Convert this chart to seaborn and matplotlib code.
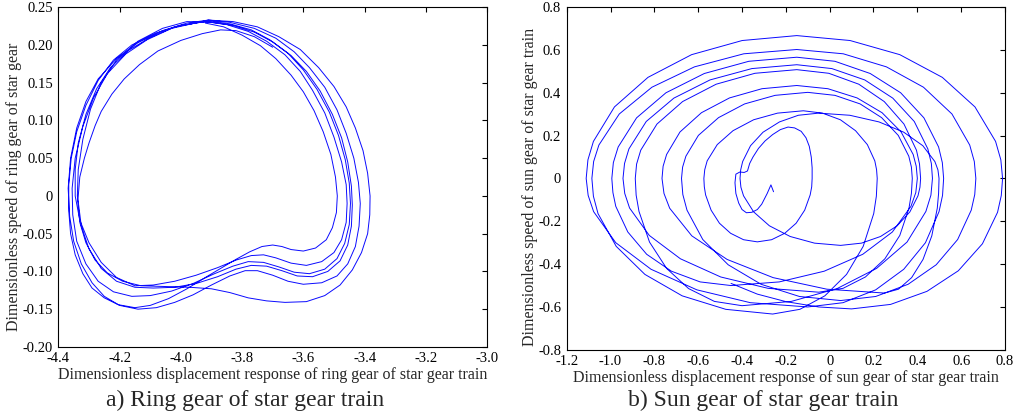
import matplotlib
matplotlib.use("Agg")
import matplotlib.pyplot as plt
import pandas as pd
import seaborn as sns

# ---- panel a: ring gear phase trajectory, one list per loop (x, v) ----
ring_loop_1 = [(-3.92, 0.229), (-3.86, 0.224), (-3.80, 0.213), (-3.74, 0.199), (-3.69, 0.182),
               (-3.64, 0.160), (-3.60, 0.138), (-3.565, 0.113), (-3.535, 0.085), (-3.51, 0.055),
               (-3.495, 0.025), (-3.489, 0.000), (-3.492, -0.022), (-3.505, -0.042), (-3.525, -0.058),
               (-3.56, -0.069), (-3.60, -0.073), (-3.64, -0.071), (-3.67, -0.067), (-3.70, -0.065),
               (-3.735, -0.067), (-3.775, -0.074), (-3.82, -0.084), (-3.87, -0.096), (-3.92, -0.108),
               (-3.98, -0.123), (-4.04, -0.136), (-4.10, -0.145), (-4.15, -0.148), (-4.205, -0.144),
               (-4.25, -0.135), (-4.29, -0.122), (-4.32, -0.103), (-4.345, -0.078), (-4.36, -0.050),
               (-4.366, -0.020), (-4.366, 0.015), (-4.358, 0.050), (-4.34, 0.085), (-4.31, 0.120),
               (-4.27, 0.153), (-4.22, 0.180), (-4.16, 0.200), (-4.08, 0.216), (-4.00, 0.226)]
ring_loop_2 = [(-3.92, 0.231), (-3.85, 0.227), (-3.78, 0.218), (-3.72, 0.205), (-3.66, 0.187),
               (-3.61, 0.165), (-3.57, 0.140), (-3.53, 0.110), (-3.50, 0.078), (-3.475, 0.045),
               (-3.46, 0.015), (-3.457, -0.010), (-3.46, -0.035), (-3.475, -0.058), (-3.50, -0.075),
               (-3.54, -0.087), (-3.59, -0.092), (-3.64, -0.089), (-3.69, -0.082), (-3.73, -0.078),
               (-3.77, -0.079), (-3.82, -0.085), (-3.88, -0.095), (-3.95, -0.105), (-4.02, -0.113),
               (-4.09, -0.118), (-4.15, -0.119), (-4.21, -0.108), (-4.26, -0.088), (-4.30, -0.062),
               (-4.33, -0.032), (-4.345, 0.000), (-4.345, 0.035), (-4.335, 0.070), (-4.31, 0.108),
               (-4.275, 0.142), (-4.23, 0.170), (-4.17, 0.193), (-4.10, 0.210), (-4.02, 0.224)]
ring_loop_3 = [(-3.91, 0.232), (-3.84, 0.228), (-3.77, 0.220), (-3.71, 0.207), (-3.65, 0.189),
               (-3.60, 0.167), (-3.555, 0.141), (-3.515, 0.111), (-3.485, 0.080), (-3.463, 0.048),
               (-3.45, 0.017), (-3.446, -0.010), (-3.45, -0.038), (-3.465, -0.063), (-3.49, -0.083),
               (-3.53, -0.097), (-3.58, -0.103), (-3.63, -0.101), (-3.68, -0.094), (-3.73, -0.088),
               (-3.78, -0.087), (-3.83, -0.093), (-3.89, -0.103), (-3.96, -0.116), (-4.03, -0.126),
               (-4.10, -0.132), (-4.16, -0.133), (-4.22, -0.127), (-4.27, -0.113), (-4.31, -0.090),
               (-4.34, -0.060), (-4.353, -0.025), (-4.355, 0.010), (-4.345, 0.050), (-4.32, 0.092),
               (-4.285, 0.130), (-4.24, 0.162), (-4.18, 0.188), (-4.11, 0.207), (-4.03, 0.222)]
ring_loop_4 = [(-3.91, 0.233), (-3.84, 0.230), (-3.76, 0.222), (-3.69, 0.209), (-3.63, 0.191),
               (-3.58, 0.170), (-3.53, 0.144), (-3.49, 0.114), (-3.46, 0.083), (-3.435, 0.050),
               (-3.42, 0.018), (-3.414, -0.010), (-3.418, -0.040), (-3.43, -0.067), (-3.455, -0.090),
               (-3.49, -0.106), (-3.54, -0.115), (-3.60, -0.117), (-3.65, -0.113), (-3.70, -0.105),
               (-3.75, -0.099), (-3.79, -0.099), (-3.84, -0.106), (-3.90, -0.118), (-3.96, -0.131),
               (-4.02, -0.141), (-4.08, -0.148), (-4.14, -0.150), (-4.20, -0.145), (-4.25, -0.133),
               (-4.29, -0.115), (-4.325, -0.090), (-4.35, -0.060), (-4.363, -0.027), (-4.368, 0.010),
               (-4.36, 0.050), (-4.34, 0.090), (-4.31, 0.125), (-4.27, 0.155), (-4.21, 0.182),
               (-4.14, 0.203), (-4.06, 0.219), (-3.98, 0.229)]
ring_loop_5 = [(-3.91, 0.233), (-3.83, 0.231), (-3.75, 0.224), (-3.68, 0.211), (-3.61, 0.194),
               (-3.55, 0.170), (-3.50, 0.145), (-3.46, 0.118), (-3.43, 0.090), (-3.405, 0.060),
               (-3.39, 0.030), (-3.382, 0.000), (-3.383, -0.025), (-3.39, -0.050), (-3.41, -0.075),
               (-3.44, -0.098), (-3.48, -0.118), (-3.53, -0.132), (-3.59, -0.140), (-3.66, -0.141),
               (-3.72, -0.139), (-3.78, -0.135), (-3.84, -0.128), (-3.90, -0.123), (-3.97, -0.121),
               (-4.05, -0.120), (-4.13, -0.119), (-4.19, -0.113), (-4.24, -0.102), (-4.28, -0.085),
               (-4.31, -0.062), (-4.33, -0.035), (-4.338, 0.000), (-4.335, 0.035), (-4.32, 0.075),
               (-4.295, 0.115), (-4.26, 0.150), (-4.21, 0.180), (-4.14, 0.205), (-4.06, 0.222),
               (-3.98, 0.231)]
ring_loop_6 = [(-3.90, 0.230), (-3.83, 0.226), (-3.76, 0.217), (-3.70, 0.204), (-3.64, 0.186),
               (-3.59, 0.165), (-3.545, 0.139), (-3.505, 0.108), (-3.475, 0.077), (-3.455, 0.045),
               (-3.443, 0.013), (-3.44, -0.012), (-3.443, -0.040), (-3.455, -0.065), (-3.48, -0.086),
               (-3.52, -0.100), (-3.57, -0.107), (-3.62, -0.106), (-3.67, -0.099), (-3.72, -0.093),
               (-3.77, -0.092), (-3.82, -0.097), (-3.88, -0.107), (-3.95, -0.116), (-4.02, -0.121),
               (-4.09, -0.122), (-4.15, -0.121), (-4.21, -0.113), (-4.26, -0.096), (-4.30, -0.070),
               (-4.325, -0.040), (-4.336, -0.005), (-4.33, 0.025), (-4.315, 0.050), (-4.30, 0.070),
               (-4.28, 0.093), (-4.26, 0.112), (-4.225, 0.135), (-4.185, 0.155), (-4.135, 0.174),
               (-4.075, 0.192), (-4.00, 0.206), (-3.93, 0.215), (-3.87, 0.220), (-3.82, 0.219),
               (-3.76, 0.211), (-3.70, 0.197)]

ring_xticks = [-4.4, -4.2, -4.0, -3.8, -3.6, -3.4, -3.2, -3.0]
ring_xlabels = ["-4.4", "-4.2", "-4.0", "-3.8", "-3.6", "-3.4", "-3.2", "-3.0"]
ring_yticks = [0.25, 0.20, 0.15, 0.10, 0.05, 0, -0.05, -0.10, -0.15, -0.20]
ring_ylabels = ["0.25", "0.20", "0.15", "0.10", "0.05", "0", "-0.05", "-0.10", "-0.15", "-0.20"]

# ---- panel b: sun gear spiral, one list per loop (x, v) ----
sun_tail = [(-0.256, -0.062), (-0.268, -0.030), (-0.285, -0.070), (-0.31, -0.12), (-0.33, -0.145),
            (-0.355, -0.158), (-0.38, -0.16), (-0.40, -0.145), (-0.415, -0.115), (-0.428, -0.07),
            (-0.432, -0.02), (-0.428, 0.02), (-0.41, 0.03), (-0.39, 0.028), (-0.375, 0.035),
            (-0.365, 0.07), (-0.35, 0.10)]
sun_loop_1 = [(-0.325, 0.14), (-0.295, 0.175), (-0.26, 0.205), (-0.225, 0.228), (-0.19, 0.24),
              (-0.16, 0.236), (-0.13, 0.22), (-0.108, 0.19), (-0.093, 0.15), (-0.084, 0.10),
              (-0.08, 0.05), (-0.08, 0.0), (-0.082, -0.039),
              (-0.089, -0.077), (-0.114, -0.148), (-0.153, -0.209), (-0.205, -0.256),
              (-0.265, -0.286), (-0.33, -0.296),
              (-0.393, -0.286), (-0.452, -0.256), (-0.503, -0.209), (-0.541, -0.148), (-0.566, -0.077),
              (-0.572, -0.039)]
sun_loop_2 = [(-0.574, 0.0), (-0.570, 0.041), (-0.559, 0.082), (-0.513, 0.158), (-0.441, 0.223),
              (-0.347, 0.274), (-0.238, 0.305), (-0.120, 0.316),
              (-0.033, 0.305), (0.049, 0.274), (0.118, 0.223), (0.172, 0.158), (0.206, 0.082),
              (0.214, 0.041), (0.217, 0.0), (0.213, -0.083),
              (0.201, -0.164), (0.153, -0.317), (0.077, -0.448), (-0.022, -0.548), (-0.136, -0.611),
              (-0.260, -0.633),
              (-0.474, -0.611), (-0.673, -0.548), (-0.843, -0.448), (-0.974, -0.317), (-1.057, -0.164),
              (-1.078, -0.083)]
sun_loop_3 = [(-1.085, 0.0), (-1.077, 0.079), (-1.053, 0.156), (-0.960, 0.301), (-0.811, 0.426),
              (-0.617, 0.521), (-0.392, 0.582), (-0.150, 0.602),
              (0.062, 0.582), (0.259, 0.521), (0.428, 0.426), (0.558, 0.301), (0.639, 0.156),
              (0.660, 0.079), (0.667, 0.0), (0.662, -0.075),
              (0.646, -0.148), (0.584, -0.285), (0.486, -0.403), (0.358, -0.494), (0.210, -0.551),
              (0.050, -0.570),
              (-0.138, -0.551), (-0.313, -0.494), (-0.463, -0.403), (-0.579, -0.285), (-0.651, -0.148),
              (-0.670, -0.075)]
sun_loop_4 = [(-0.676, 0.0), (-0.671, 0.053), (-0.656, 0.104), (-0.599, 0.201), (-0.507, 0.284),
              (-0.388, 0.348), (-0.249, 0.388), (-0.100, 0.402),
              (0.024, 0.388), (0.139, 0.348), (0.237, 0.284), (0.313, 0.201), (0.361, 0.104),
              (0.373, 0.053), (0.377, 0.0), (0.373, -0.070),
              (0.362, -0.138), (0.320, -0.266), (0.252, -0.375), (0.163, -0.460), (0.061, -0.513),
              (-0.050, -0.531),
              (-0.281, -0.513), (-0.497, -0.460), (-0.681, -0.375), (-0.823, -0.266), (-0.913, -0.138),
              (-0.935, -0.070)]
sun_loop_5 = [(-0.943, 0.0), (-0.936, 0.070), (-0.916, 0.138), (-0.837, 0.266), (-0.711, 0.375),
              (-0.546, 0.460), (-0.355, 0.513), (-0.150, 0.531),
              (0.010, 0.513), (0.160, 0.460), (0.288, 0.375), (0.386, 0.266), (0.448, 0.138),
              (0.464, 0.070), (0.469, 0.0), (0.462, -0.078),
              (0.439, -0.154), (0.353, -0.297), (0.214, -0.420), (0.034, -0.514), (-0.175, -0.574),
              (-0.400, -0.594),
              (-0.526, -0.574), (-0.644, -0.514), (-0.744, -0.420), (-0.822, -0.297), (-0.870, -0.154),
              (-0.883, -0.078)]
sun_loop_6 = [(-0.887, 0.0), (-0.881, 0.067), (-0.862, 0.132), (-0.788, 0.254), (-0.671, 0.359),
              (-0.518, 0.440), (-0.341, 0.491), (-0.150, 0.508),
              (-0.004, 0.491), (0.133, 0.440), (0.249, 0.359), (0.339, 0.254), (0.396, 0.132),
              (0.410, 0.067), (0.415, 0.0), (0.412, -0.041),
              (0.403, -0.081), (0.366, -0.156), (0.308, -0.221), (0.232, -0.271), (0.145, -0.302),
              (0.050, -0.3125),
              (-0.069, -0.302), (-0.180, -0.271), (-0.275, -0.221), (-0.347, -0.156), (-0.393, -0.081),
              (-0.405, -0.041)]
sun_loop_7 = [(-0.409, 0.0), (-0.406, 0.040), (-0.397, 0.079), (-0.361, 0.153), (-0.304, 0.216),
              (-0.229, 0.264), (-0.143, 0.295), (-0.050, 0.305),
              (0.092, 0.295), (0.225, 0.264), (0.338, 0.216), (0.425, 0.153), (0.480, 0.079),
              (0.494, 0.040), (0.499, 0.0), (0.497, -0.070),
              (0.491, -0.139), (0.466, -0.268), (0.426, -0.378), (0.374, -0.463), (0.314, -0.517),
              (0.250, -0.535),
              (-0.013, -0.517), (-0.258, -0.463), (-0.468, -0.378), (-0.629, -0.268), (-0.730, -0.139),
              (-0.756, -0.070)]
sun_loop_8 = [(-0.765, 0.0), (-0.760, 0.057), (-0.744, 0.112), (-0.683, 0.217), (-0.585, 0.307),
              (-0.457, 0.376), (-0.309, 0.419), (-0.150, 0.434),
              (-0.008, 0.419), (0.125, 0.376), (0.239, 0.307), (0.326, 0.217), (0.381, 0.112),
              (0.395, 0.057), (0.400, 0.0), (0.393, -0.066),
              (0.371, -0.130), (0.286, -0.250), (0.151, -0.354), (-0.025, -0.433), (-0.230, -0.483),
              (-0.450, -0.500),
              (-0.591, -0.483), (-0.722, -0.433), (-0.835, -0.354), (-0.921, -0.250), (-0.976, -0.130),
              (-0.989, -0.066)]
sun_loop_9 = [(-0.994, 0.0), (-0.987, 0.074), (-0.965, 0.147), (-0.881, 0.283), (-0.747, 0.400),
              (-0.572, 0.490), (-0.369, 0.547), (-0.150, 0.566),
              (0.024, 0.547), (0.185, 0.490), (0.324, 0.400), (0.430, 0.283), (0.497, 0.147),
              (0.514, 0.074), (0.520, 0.0), (0.515, -0.079),
              (0.499, -0.155), (0.437, -0.300), (0.338, -0.424), (0.210, -0.520), (0.061, -0.580),
              (-0.100, -0.600),
              (-0.362, -0.580), (-0.606, -0.520), (-0.815, -0.424), (-0.976, -0.300), (-1.077, -0.155),
              (-1.102, -0.079)]
sun_loop_10 = [(-1.111, 0.0), (-1.103, 0.087), (-1.078, 0.173), (-0.982, 0.334), (-0.829, 0.472),
               (-0.630, 0.578), (-0.399, 0.644), (-0.150, 0.667),
               (0.093, 0.644), (0.320, 0.578), (0.514, 0.472), (0.663, 0.334), (0.757, 0.173),
               (0.781, 0.087), (0.789, 0.0), (0.783, -0.080),
               (0.766, -0.158), (0.697, -0.305), (0.587, -0.431), (0.444, -0.527), (0.278, -0.588),
               (0.100, -0.609),
               (-0.05, -0.60), (-0.20, -0.575), (-0.33, -0.54), (-0.45, -0.49)]

sun_xticks = [-1.2, -1.0, -0.8, -0.6, -0.4, -0.2, 0, 0.2, 0.4, 0.6, 0.8]
sun_xlabels = ["-1.2", "-1.0", "-0.8", "-0.6", "-0.4", "-0.2", "0", "0.2", "0.4", "0.6", "0.8"]
sun_yticks = [0.8, 0.6, 0.4, 0.2, 0, -0.2, -0.4, -0.6, -0.8]
sun_ylabels = ["0.8", "0.6", "0.4", "0.2", "0", "-0.2", "-0.4", "-0.6", "-0.8"]


def to_frame(loops):
    pts = [p for loop in loops for p in loop]
    return pd.DataFrame({"step": range(len(pts)),
                         "x": [p[0] for p in pts],
                         "v": [p[1] for p in pts]})


def style_axes(ax, xticks, xlabels, yticks, ylabels, xlim, ylim):
    ax.set_xlim(*xlim)
    ax.set_ylim(*ylim)
    ax.set_xticks(xticks)
    ax.set_xticklabels(xlabels)
    ax.set_yticks(yticks)
    ax.set_yticklabels(ylabels)
    ax.tick_params(direction="in", length=3.5, width=0.8, top=True, right=True,
                   labelsize=10.5, pad=4, colors="black")
    for s in ax.spines.values():
        s.set_visible(True)
        s.set_color("black")
        s.set_linewidth(0.8)


sns.set_style("white")
plt.rcParams["font.family"] = ["Liberation Serif", "DejaVu Serif"]

fig = plt.figure(figsize=(10.13, 4.13), dpi=100)
ax_a = fig.add_axes([0.0576, 0.160, 0.4232, 0.8225])
ax_b = fig.add_axes([0.5594, 0.153, 0.4327, 0.8298])

ring_df = to_frame([ring_loop_1, ring_loop_2, ring_loop_3, ring_loop_4, ring_loop_5, ring_loop_6])
sns.lineplot(data=ring_df, x="x", y="v", sort=False, estimator=None,
             color="#0a0aff", lw=0.7, ax=ax_a)
style_axes(ax_a, ring_xticks, ring_xlabels, ring_yticks, ring_ylabels,
           (-4.4, -3.0), (-0.2, 0.25))
ax_a.set_xlabel("Dimensionless displacement response of ring gear of star gear train",
                fontsize=11.5, labelpad=1)
ax_a.set_ylabel("Dimensionless speed of ring gear of star gear", fontsize=11.5)
ax_a.yaxis.set_label_coords(-0.085, 0.47)

sun_df = to_frame([sun_tail, sun_loop_1, sun_loop_2, sun_loop_3, sun_loop_4, sun_loop_5,
                   sun_loop_6, sun_loop_7, sun_loop_8, sun_loop_9, sun_loop_10])
sns.lineplot(data=sun_df, x="x", y="v", sort=False, estimator=None,
             color="#0a0aff", lw=0.7, ax=ax_b)
style_axes(ax_b, sun_xticks, sun_xlabels, sun_yticks, sun_ylabels,
           (-1.2, 0.8), (-0.8, 0.8))
ax_b.set_xlabel("Dimensionless displacement response of sun gear of star gear train",
                fontsize=11.5, labelpad=1)
ax_b.set_ylabel("Dimensionless speed of sun gear of star gear train", fontsize=11.5)
ax_b.yaxis.set_label_coords(-0.066, 0.475)

fig.text(0.242, 0.031, "a) Ring gear of star gear train", ha="center", va="center", fontsize=17)
fig.text(0.753, 0.031, "b) Sun gear of star gear train", ha="center", va="center", fontsize=17)

fig.savefig("out.png", dpi=100)
